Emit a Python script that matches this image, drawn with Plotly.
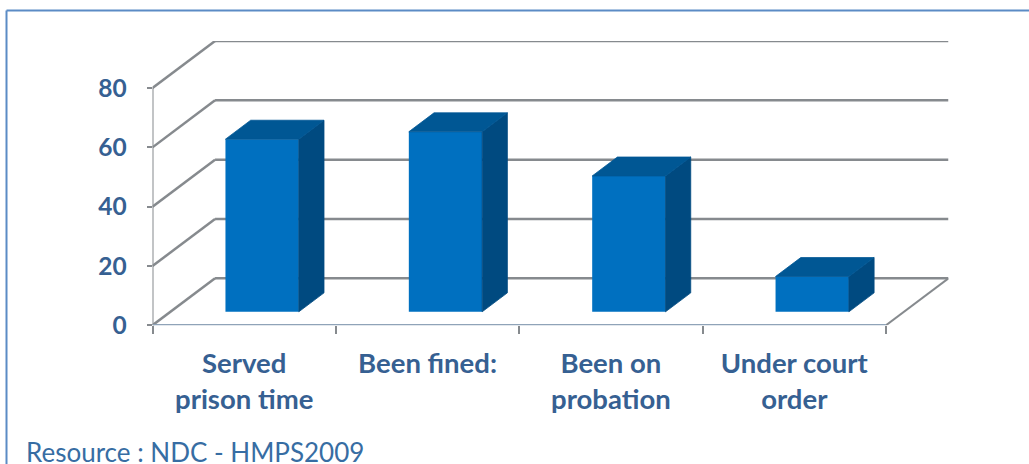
import plotly.graph_objects as go

categories = ["Served<br>prison time", "Been fined:", "Been on<br>probation", "Under court<br>order"]
values = [58.2, 60.7, 45.8, 11.9]
y_ticks = [0, 20, 40, 60, 80]
source = "Resource : NDC - HMPS2009"

W, H = 1029, 464
FRONT = "#0070C0"
TOP = "#005794"
SIDE = "#004A80"
GRID = "#868A8E"
TEXT = "#366092"

PX0, PX1, PY0, PY1 = 152.5, 948.5, 325.3, 41
CAT_W = (885 - 152) / 4
UNIT = (325.3 - 88) / 80
SHEAR_X = 62.5 / CAT_W
SHEAR_Y = 47 / UNIT


def proj(c, v, d):
    return c + d * SHEAR_X, v + d * SHEAR_Y


fig = go.Figure()
shapes = []


def line(pts, color=GRID, width=2.5):
    for a, b in zip(pts[:-1], pts[1:]):
        shapes.append(dict(type="line", xref="x", yref="y", layer="below",
                           x0=a[0], y0=a[1], x1=b[0], y1=b[1],
                           line=dict(color=color, width=width)))


def face(pts, color):
    xs = [p[0] for p in pts] + [pts[0][0]]
    ys = [p[1] for p in pts] + [pts[0][1]]
    fig.add_trace(go.Scatter(x=xs, y=ys, mode="lines", fill="toself", fillcolor=color,
                             line=dict(color=color, width=0.8), hoverinfo="skip",
                             showlegend=False, cliponaxis=False))


n = len(categories)
for t in y_ticks:
    line([proj(0, t, 0), proj(0, t, 1), proj(n, t, 1)])
line([proj(0, 0, 0), proj(0, y_ticks[-1], 0)], width=2)
line([proj(n, 0, 0), proj(n, 0, 1)], width=2)
line([proj(0, 0, 0), proj(n, 0, 0)], color="#8FA3B8", width=2.5)

BAR_W = 0.4
D0, D1 = 0.287, 0.69
centers = [i + 0.5 for i in range(n)]

for c, v in zip(centers, values):
    l, r = c - BAR_W / 2, c + BAR_W / 2
    face([proj(r, 0, D0), proj(r, 0, D1), proj(r, v, D1), proj(r, v, D0)], SIDE)
    face([proj(l, v, D0), proj(r, v, D0), proj(r, v, D1), proj(l, v, D1)], TOP)

fig.add_trace(go.Bar(
    x=[proj(c, 0, D0)[0] for c in centers],
    y=values,
    base=proj(0, 0, D0)[1],
    width=BAR_W,
    marker=dict(color=FRONT, line=dict(width=0)),
    hoverinfo="skip",
    showlegend=False,
))

x_max = n + SHEAR_X
y_max = y_ticks[-1] + SHEAR_Y

shapes += [
    dict(type="line", xref="paper", yref="paper", x0=6.5 / W, x1=6.5 / W, y0=0, y1=1 - 10.5 / H,
         line=dict(color="#5B8BC5", width=2)),
    dict(type="line", xref="paper", yref="paper", x0=6.5 / W, x1=1, y0=1 - 10.5 / H, y1=1 - 10.5 / H,
         line=dict(color="#5B8BC5", width=2)),
]

fig.update_layout(
    width=W, height=H,
    autosize=False,
    margin=dict(l=0, r=0, t=0, b=0),
    paper_bgcolor="white",
    plot_bgcolor="rgba(0,0,0,0)",
    showlegend=False,
    xaxis=dict(
        domain=[PX0 / W, PX1 / W],
        range=[0, x_max],
        tickmode="array",
        tickvals=centers,
        ticktext=categories,
        ticks="",
        ticklabelstandoff=19,
        tickfont=dict(family="Lato", size=27.5, color=TEXT, weight="bold"),
        minor=dict(tickmode="array", tickvals=list(range(n + 1)), ticks="outside",
                   ticklen=8, tickwidth=2, tickcolor=GRID),
        showgrid=False, zeroline=False, showline=False,
        automargin=False,
    ),
    yaxis=dict(
        domain=[(H - PY0) / H, (H - PY1) / H],
        range=[0, y_max],
        tickmode="array",
        tickvals=y_ticks,
        ticks="outside",
        ticklen=5,
        tickwidth=2,
        tickcolor=GRID,
        ticklabelstandoff=15,
        tickfont=dict(family="Lato", size=24.5, color=TEXT, weight="bold"),
        showgrid=False, zeroline=False, showline=False,
        automargin=False,
    ),
    shapes=shapes,
    annotations=[
        dict(text=source, xref="paper", yref="paper", x=24 / W, y=1 - 452 / H,
             xanchor="left", yanchor="middle", showarrow=False,
             font=dict(family="Lato", size=26, color="#376DA3")),
    ],
)

fig.write_html("out.html", config=dict(displayModeBar=False),
               post_script="document.body.style.margin='0';document.body.style.overflow='hidden';")
